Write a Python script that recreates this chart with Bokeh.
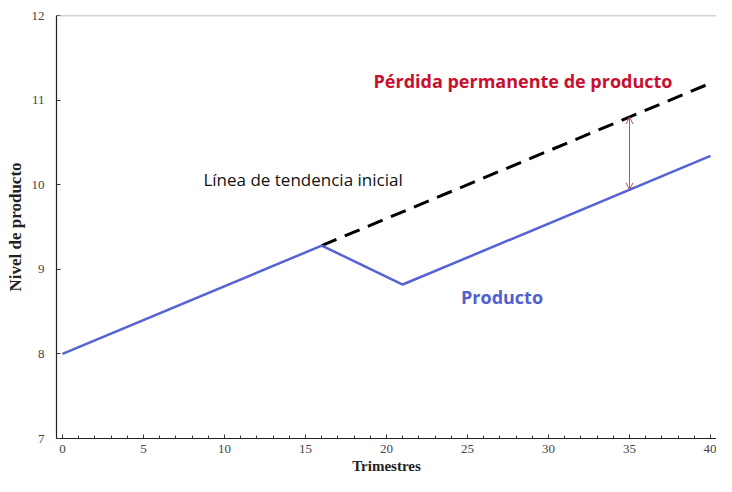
from bokeh.plotting import figure
from bokeh.models import Range1d, Span, Arrow, OpenHead, FixedTicker, Label
from bokeh.embed import file_html
from bokeh.resources import INLINE

# Data
quarters_product = [0, 16, 21, 40]
product_level = [8.0, 9.28, 8.82, 10.34]
quarters_trend = [16, 40]
trend_level = [9.28, 11.2]
loss_quarter = 35
loss_top = 10.8
loss_bottom = 9.94
x_ticks = [0, 5, 10, 15, 20, 25, 30, 35, 40]
y_ticks = [7, 8, 9, 10, 11, 12]

p = figure(width=716, height=476, output_backend="svg", toolbar_location=None,
           x_range=Range1d(-0.37, 40.37), y_range=Range1d(7, 12),
           min_border_left=56, min_border_right=0, min_border_top=15, min_border_bottom=36)
p.outline_line_color = None
p.grid.grid_line_color = None
p.background_fill_color = "white"

serif = "Liberation Serif"
p.xaxis.ticker = FixedTicker(ticks=x_ticks, minor_ticks=list(range(0, 41)))
p.yaxis.ticker = FixedTicker(ticks=y_ticks)
for ax in (p.xaxis[0], p.yaxis[0]):
    ax.axis_line_color = "#222222"
    ax.axis_line_width = 1.2
    ax.major_tick_in = 4
    ax.major_tick_out = 0
    ax.minor_tick_in = 3
    ax.minor_tick_out = 0
    ax.major_tick_line_color = "#333333"
    ax.minor_tick_line_color = "#333333"
    ax.major_label_text_font = serif
    ax.major_label_text_font_size = "13px"
    ax.major_label_text_color = "#444444"
    ax.axis_label_text_font = serif
    ax.axis_label_text_font_style = "bold"
    ax.axis_label_text_color = "#222222"
p.yaxis.minor_tick_line_color = None
p.xaxis.major_label_standoff = 6
p.yaxis.major_label_standoff = 12
p.xaxis.axis_label = "Trimestres"
p.xaxis.axis_label_text_font_size = "15px"
p.xaxis.axis_label_standoff = 2
p.yaxis.axis_label = "Nivel de producto"
p.yaxis.axis_label_text_font_size = "17px"
p.yaxis.axis_label_standoff = 4

p.add_layout(Span(location=12, dimension="width", line_color="#aaaaaa", line_width=1.5))

p.line(quarters_trend, trend_level, line_color="black", line_width=3, line_dash="16 9")
p.line(quarters_product, product_level, line_color="#5663d6", line_width=2.5)

p.add_layout(Arrow(start=OpenHead(size=7, line_color="#c05050", line_width=1),
                   end=OpenHead(size=7, line_color="#c05050", line_width=1),
                   x_start=loss_quarter, y_start=loss_bottom, x_end=loss_quarter, y_end=loss_top,
                   line_color="#c05050", line_width=1))

p.add_layout(Label(x=19.2, y=11.22, text="Pérdida permanente de producto", text_font="Open Sans",
                   text_font_style="bold", text_font_size="18px", text_color="#c8102e",
                   text_baseline="middle"))
p.add_layout(Label(x=8.7, y=10.06, text="Línea de tendencia inicial", text_font="Open Sans",
                   text_font_size="17px", text_color="#111111", text_baseline="middle"))
p.add_layout(Label(x=24.6, y=8.67, text="Producto", text_font="Open Sans",
                   text_font_style="bold", text_font_size="18px", text_color="#5060cc",
                   text_baseline="middle"))

open("out.html", "w").write(file_html(p, INLINE))
